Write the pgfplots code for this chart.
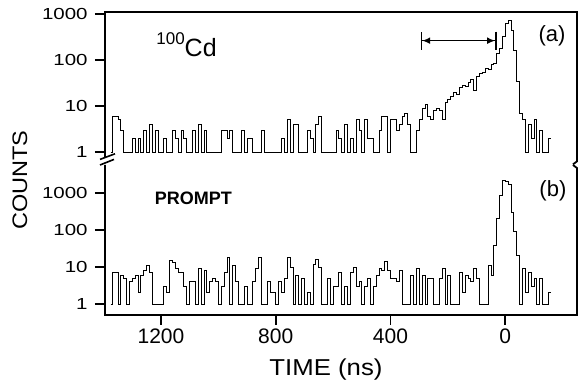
\documentclass[border=0pt]{standalone}
\usepackage{fontspec}
\setmainfont{Liberation Sans}
\newfontfamily\tickyfont[FakeStretch=1.28]{Liberation Sans}
\newfontfamily\widefont[FakeStretch=1.12]{Liberation Sans}
\usepackage{pgfplots}
\usepackage{pgfplotstable}
\pgfplotsset{compat=1.18}
\usetikzlibrary{arrows.meta}

\pgfplotstableread{
t v
1375 1
1370 6
1360 6
1350 5
1340 3
1330 1
1320 1
1310 1
1300 2
1290 1
1280 2
1270 1
1260 3
1250 1
1240 4
1230 1
1220 3
1210 1
1200 1
1190 2
1180 1
1170 1
1160 3
1150 2
1140 1
1130 3
1120 2
1110 1
1100 1
1090 3
1080 1
1070 4
1060 1
1050 3
1040 1
1030 1
1020 1
1010 1
1000 1
990 3
980 3
970 2
960 3
950 1
940 1
930 1
920 3
910 1
900 2
890 2
880 1
870 1
860 1
850 3
840 1
830 1
820 1
810 1
800 1
790 1
780 2
770 1
760 5
750 1
740 4
730 4
720 1
710 1
700 1
690 3
680 2
670 1
660 4
650 6
640 1
630 1
620 1
610 1
600 1
590 3
580 2
570 1
560 4
550 1
540 2
530 1
520 5
510 3
500 1
490 5
480 2
470 2
460 1
450 1
440 3
430 6
420 6
410 1
400 5
390 5
380 3
370 4
360 6
350 7
340 4
330 1
320 1
310 3
300 5
290 9
280 11
270 6
260 5
250 8
240 9
230 8
220 5
210 12
200 14
190 16
180 20
170 18
160 25
150 28
140 26
130 32
120 37
110 22
100 45
90 52
80 55
70 67
60 62
50 80
40 86
30 140
20 180
10 320
0 640
-10 740
-20 450
-30 165
-40 35
-50 7
-60 5
-70 1
-80 4
-90 2
-100 5
-110 1
-120 3
-130 1
-140 1
-150 2
-160 2
}\cdtable

\pgfplotstableread{
t v
1375 1
1370 7
1360 7
1350 1
1340 6
1330 5
1320 1
1310 4
1300 5
1290 6
1280 2
1270 6
1260 8
1250 11
1240 7
1230 1
1220 1
1210 1
1200 1
1190 3
1180 2
1170 15
1160 13
1150 9
1140 7
1130 7
1120 3
1110 1
1100 4
1090 4
1080 1
1070 9
1060 1
1050 8
1040 2
1030 4
1020 5
1010 4
1000 1
990 3
980 7
970 18
960 1
950 11
940 4
930 1
920 1
910 3
900 1
890 1
880 4
870 9
860 18
850 1
840 1
830 4
820 2
810 2
800 1
790 4
780 2
770 5
760 18
750 10
740 1
730 6
720 1
710 5
700 1
690 2
680 1
670 12
660 16
650 10
640 1
630 1
620 5
610 1
600 3
590 3
580 7
570 1
560 3
550 1
540 7
530 10
520 3
510 4
500 1
490 3
480 5
470 1
460 3
450 6
440 9
430 8
420 14
410 8
400 5
390 5
380 4
370 8
360 1
350 1
340 1
330 6
320 1
310 9
300 1
290 6
280 1
270 5
260 5
250 1
240 1
230 5
220 9
210 1
200 6
190 1
180 1
170 1
160 7
150 2
140 6
130 5
120 4
110 9
100 5
90 1
80 1
70 1
60 11
50 6
40 39
30 210
20 880
10 2240
0 2000
-10 1660
-20 300
-30 90
-40 21
-50 1
-60 9
-70 2
-80 7
-90 3
-100 5
-110 1
-120 5
-130 1
-140 1
-150 2
-160 2
}\prompttable

\pgfplotsset{mypanel/.style={
  width=236pt, scale only axis, clip=false,
  xmin=-250, xmax=1395, x dir=reverse,
  yminorticks=false,
  axis line style={draw=none},
  tick align=outside, major tick length=5pt,
  tick style={line width=0.9pt, black},
  ytick={1,10,100,1000}, yticklabels={1,10,100,1000},
  ytick pos=left,
  yticklabel style={font=\tickyfont\fontsize{8}{8}\selectfont, inner sep=3.5pt},
  xticklabel style={font=\fontsize{10.5}{10.5}\selectfont, inner sep=1.5pt},
}}

\begin{document}
\begin{tikzpicture}
\path[use as bounding box] (-52.5pt,-35pt) rectangle (237.5pt,157.5pt);

% top panel (a)
\begin{axis}[ymode=log, mypanel, at={(0pt,79pt)}, anchor=south west, height=72.5pt,
  ymin=0.778, ymax=1105, xtick=\empty]
\addplot[const plot, black, line width=0.4pt, mark=none] table[x=t,y=v] {\cdtable};
\draw[line width=0.9pt] (rel axis cs:0,0) -- (rel axis cs:0,1) -- (rel axis cs:1,1) -- (rel axis cs:1,-0.03) -- ++(-2pt,-1.5pt);
\draw[line width=0.8pt, {Bar[width=9pt]Latex[length=4pt,width=3.5pt]}-{Latex[length=4pt,width=3.5pt]Bar[width=9pt]}] (axis cs:295,263) -- (axis cs:30,263);
\node[font=\fontsize{11}{11}\selectfont] at (rel axis cs:0.947,0.834) {(a)};
\node[anchor=base west, inner sep=0pt] at (rel axis cs:0.108,0.690) {\raisebox{6pt}{\fontsize{8.5}{8.5}\selectfont 100}\fontsize{12.5}{12.5}\selectfont Cd};
\end{axis}

% bottom panel (b)
\begin{axis}[ymode=log, mypanel, at={(0pt,0pt)}, anchor=south west, height=75pt,
  ymin=0.504, ymax=5710,
  xtick={1200,800,400,0}, xticklabels={1200,800,400,0}, xtick pos=bottom]
\addplot[const plot, black, line width=0.4pt, mark=none] table[x=t,y=v] {\prompttable};
\draw[line width=0.9pt] (rel axis cs:0,1) -- (rel axis cs:0,0) -- (rel axis cs:1,0) -- (rel axis cs:1,0.98) -- ++(-2pt,1.5pt);
\node[font=\bfseries\fontsize{9}{9}\selectfont] at (rel axis cs:0.1875,0.777) {PROMPT};
\node[font=\fontsize{11}{11}\selectfont] at (rel axis cs:0.949,0.83) {(b)};
\end{axis}

% axis break on the left
\draw[line width=0.8pt] (-2.5pt,77.8pt) -- (5pt,80.6pt);
\draw[line width=0.8pt] (-2.5pt,75pt) -- (4.5pt,77.8pt);

\node[rotate=90, font=\widefont\fontsize{10.5}{10.5}\selectfont] at (-42.5pt,67.5pt) {COUNTS};
\node[font=\widefont\fontsize{11.5}{11.5}\selectfont] at (110.5pt,-27.5pt) {TIME (ns)};
\end{tikzpicture}
\end{document}
